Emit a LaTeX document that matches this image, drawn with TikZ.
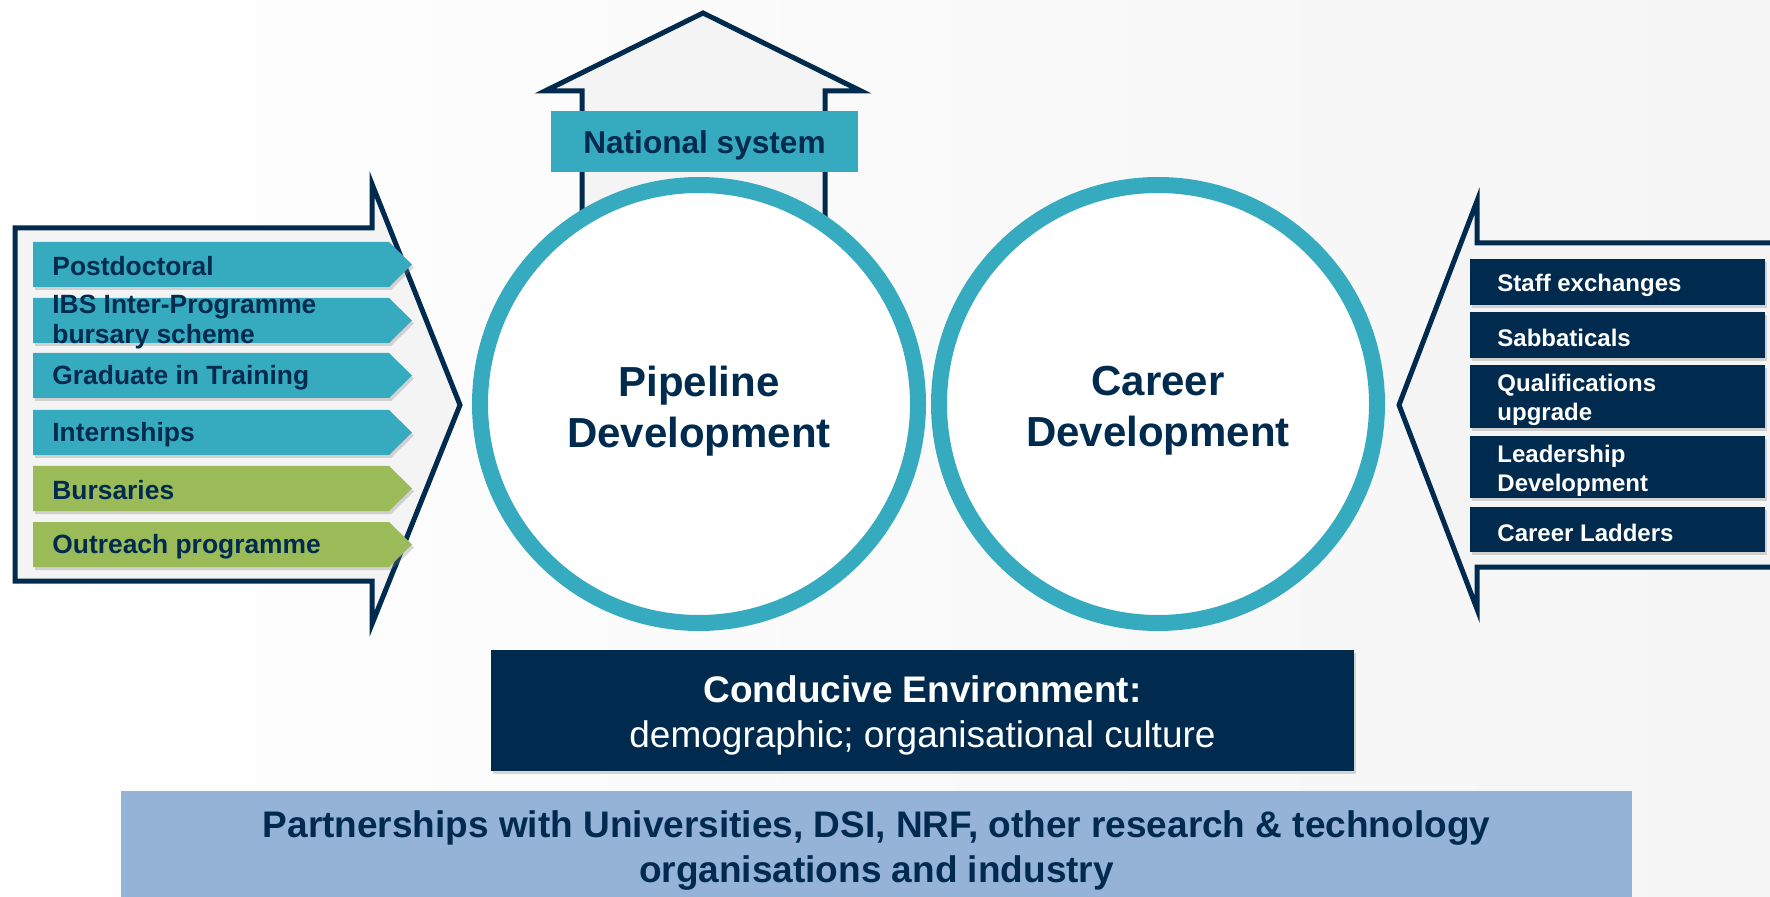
\documentclass[tikz,border=0pt]{standalone}
\usepackage{fontspec}
\setmainfont{Liberation Sans}
\usetikzlibrary{shadows}
\definecolor{ibsnavy}{RGB}{0,42,78}
\definecolor{ibsteal}{RGB}{54,171,192}
\definecolor{ibsgreen}{RGB}{155,187,89}
\definecolor{ibsblue}{RGB}{149,179,215}

\begin{document}
\begin{tikzpicture}[x=0.5pt, y=-0.5pt,
  outline/.style={draw=ibsnavy, line width=2.5pt, fill=gray!9},
  softshadow/.style={drop shadow={shadow xshift=1pt, shadow yshift=-1.5pt, opacity=0.3}},
  bartext/.style={anchor=west, align=left, inner sep=0pt, yshift=-1pt, text=ibsnavy, font=\fontsize{13.2}{15}\selectfont\bfseries},
  boxtext/.style={anchor=west, align=left, inner sep=0pt, yshift=-1.7pt, text=white, font=\fontsize{12}{14.5}\selectfont\bfseries},
  ring/.style={circle, draw=ibsteal, line width=8pt, fill=white, minimum size=219pt},
  ringtext/.style={align=center, yshift=-3.4pt, text=ibsnavy, font=\fontsize{21}{25.5}\selectfont\bfseries}]
\useasboundingbox (0,0) rectangle (1770,897);
\clip (0,0) rectangle (1770,897);
\shade[left color=white, right color=gray!8] (0,0) rectangle (1770,897);
% left arrow
\draw[outline] (15,228) -- (372,228) -- (372,184) -- (460,405) -- (372,624) -- (372,581) -- (15,581) -- cycle;
\foreach \y/\c/\t [count=\i] in {242/ibsteal/Postdoctoral, 298/ibsteal/{IBS Inter-Programme\\bursary scheme}, 353/ibsteal/Graduate in Training, 410/ibsteal/Internships, 466/ibsgreen/Bursaries, 522/ibsgreen/Outreach programme}
{
  \fill[\c, softshadow] (33,\y) -- (389,\y) -- (412,\y+22.5) -- (389,\y+45) -- (33,\y+45) -- cycle;
  \node[bartext] (bar\i) at (52,\y+22.5) {\t};
}
% right arrow
\draw[outline] (1790,243) -- (1477,243) -- (1477,201) -- (1399,405) -- (1477,609) -- (1477,567) -- (1790,567);
\foreach \ya/\yb/\t [count=\i] in {259/305/Staff exchanges, 312/358/Sabbaticals, 365/428/{Qualifications\\upgrade}, 436/498/{Leadership\\Development}, 507/552/Career Ladders}
{
  \fill[ibsnavy, softshadow] (1470,\ya) rectangle (1765,\yb);
  \node[boxtext] (cd\i) at (1497,{(\ya+\yb)/2}) {\t};
}
% house
\draw[outline] (582,260) -- (582,91) -- (545,91) -- (703,13) -- (861,91) -- (825,91) -- (825,260);
\node[fill=ibsteal, minimum width=153.5pt, minimum height=30.5pt, text height=15pt, text depth=3.3pt, text=ibsnavy, font=\fontsize{15.8}{19}\selectfont\bfseries] (natsys) at (704.5,141.5) {National system};
\node[ring] (pipeline) at (699,404) {};
\node[ringtext] (pipetext) at (pipeline) {Pipeline\\Development};
\node[ring] (career) at (1158,404) {};
\node[ringtext] (careertext) at (career) {Career\\Development};
% bottom boxes
\node[fill=ibsnavy, softshadow, minimum width=431.5pt, minimum height=60.5pt] (env) at (922.5,710.5) {};
\node[text=white, align=center, yshift=-2.3pt, font=\fontsize{18.5}{22.5}\selectfont] (envtext) at (env) {\textbf{Conducive Environment:}\\demographic; organisational culture};
\node[fill=ibsblue, minimum width=755.5pt, minimum height=53pt] (partners) at (876.5,844) {};
\node[text=ibsnavy, align=center, yshift=-3.4pt, font=\fontsize{18.5}{22.5}\selectfont\bfseries] (partnerstext) at (partners) {Partnerships with Universities, DSI, NRF, other research \& technology\\organisations and industry};
\end{tikzpicture}
\end{document}
